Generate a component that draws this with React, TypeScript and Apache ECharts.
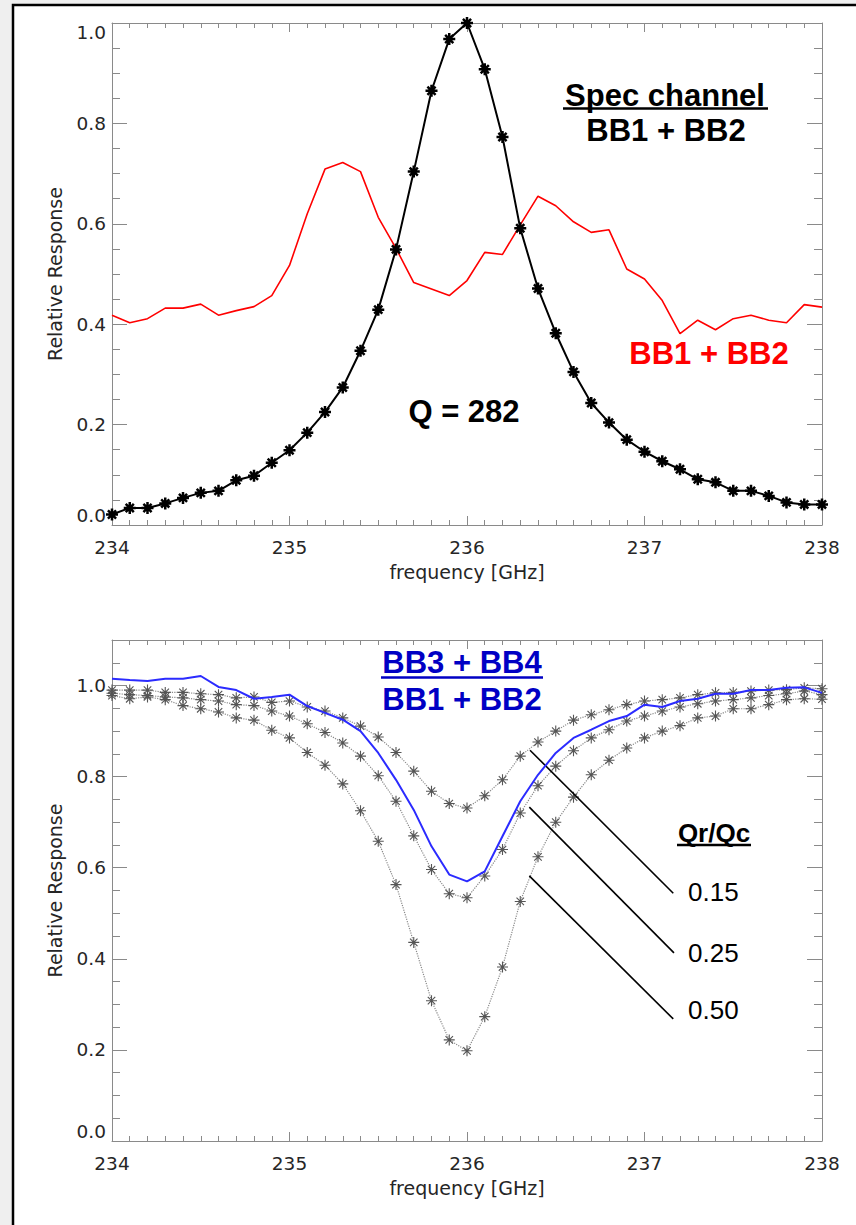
import React, { useEffect, useRef } from 'react';
import * as echarts from 'echarts';

// ---------- data ----------
const freq = [
  234.0, 234.1, 234.2, 234.3, 234.4, 234.5, 234.6, 234.7, 234.8, 234.9,
  235.0, 235.1, 235.2, 235.3, 235.4, 235.5, 235.6, 235.7, 235.8, 235.9,
  236.0, 236.1, 236.2, 236.3, 236.4, 236.5, 236.6, 236.7, 236.8, 236.9,
  237.0, 237.1, 237.2, 237.3, 237.4, 237.5, 237.6, 237.7, 237.8, 237.9,
  238.0,
];

// top panel: spectral channel response (Q = 282)
const specChannel = [
  0.021, 0.034, 0.034, 0.043, 0.054, 0.064, 0.068, 0.089, 0.098, 0.124,
  0.149, 0.184, 0.225, 0.274, 0.347, 0.429, 0.549, 0.704, 0.865, 0.968,
  1.0, 0.908, 0.773, 0.591, 0.471, 0.382, 0.305, 0.243, 0.204, 0.170,
  0.146, 0.127, 0.111, 0.091, 0.085, 0.068, 0.068, 0.058, 0.045, 0.041,
  0.041,
];

// top panel: broadband BB1 + BB2 (red)
const bb12 = [
  0.418, 0.403, 0.411, 0.432, 0.432, 0.440, 0.418, 0.427, 0.435, 0.457,
  0.517, 0.620, 0.709, 0.722, 0.704, 0.613, 0.551, 0.483, 0.470, 0.457,
  0.487, 0.543, 0.539, 0.598, 0.655, 0.636, 0.604, 0.583, 0.588, 0.510,
  0.490, 0.447, 0.381, 0.408, 0.389, 0.411, 0.418, 0.408, 0.403, 0.439,
  0.434,
];

// bottom panel: ratio (BB3 + BB4) / (BB1 + BB2) (blue)
const ratio = [
  1.015, 1.012, 1.010, 1.015, 1.015, 1.021, 0.997, 0.990, 0.971, 0.975,
  0.980, 0.955, 0.940, 0.925, 0.900, 0.852, 0.793, 0.727, 0.647, 0.585,
  0.570, 0.592, 0.669, 0.746, 0.804, 0.852, 0.885, 0.903, 0.922, 0.933,
  0.958, 0.953, 0.966, 0.971, 0.982, 0.982, 0.990, 0.990, 0.995, 0.996,
  0.984,
];

// bottom panel: model curves for Qr/Qc
const model015 = [
  0.990, 0.990, 0.990, 0.985, 0.985, 0.982, 0.980, 0.973, 0.975, 0.963,
  0.966, 0.953, 0.944, 0.929, 0.911, 0.887, 0.853, 0.812, 0.768, 0.741,
  0.731, 0.758, 0.793, 0.845, 0.876, 0.900, 0.924, 0.936, 0.947, 0.958,
  0.966, 0.969, 0.973, 0.980, 0.984, 0.985, 0.988, 0.990, 0.991, 0.995,
  0.993,
];
const model025 = [
  0.983, 0.980, 0.978, 0.975, 0.973, 0.969, 0.966, 0.958, 0.956, 0.944,
  0.933, 0.916, 0.897, 0.874, 0.845, 0.802, 0.746, 0.670, 0.596, 0.543,
  0.534, 0.582, 0.640, 0.720, 0.780, 0.823, 0.857, 0.885, 0.903, 0.922,
  0.933, 0.944, 0.953, 0.960, 0.966, 0.969, 0.973, 0.978, 0.982, 0.988,
  0.980,
];
const model050 = [
  0.978, 0.971, 0.975, 0.969, 0.956, 0.949, 0.942, 0.929, 0.924, 0.902,
  0.885, 0.853, 0.825, 0.784, 0.725, 0.658, 0.563, 0.436, 0.308, 0.222,
  0.198, 0.273, 0.382, 0.526, 0.624, 0.700, 0.755, 0.804, 0.836, 0.863,
  0.885, 0.900, 0.912, 0.929, 0.933, 0.949, 0.949, 0.958, 0.969, 0.971,
  0.970,
];

const qLabels = ['0.15', '0.25', '0.50'];
// leader lines (data coordinates of bottom panel): [start, end]
const leaders = [
  [[236.355, 0.858], [237.162, 0.544]],
  [[236.351, 0.733], [237.166, 0.413]],
  [[236.351, 0.582], [237.162, 0.268]],
];

// ---------- styles ----------
const GRAY = '#8a8a8a';
const TICK_FONT = 'DejaVu Sans';
const LABEL_COLOR = '#262626';
const ASTERISK = 'path://M5,0L5,10M0,5L10,5M1.6,1.6L8.4,8.4M8.4,1.6L1.6,8.4';

const pair = (ys: number[]) => freq.map((f, i) => [f, ys[i]]);
const isMajor = (v: number) => Math.abs(v * 5 - Math.round(v * 5)) < 1e-6;

function xAxes(gridIndex: number) {
  const common = {
    type: 'value',
    gridIndex,
    min: 234,
    max: 238,
    interval: 1,
    axisLine: { show: true, onZero: false, lineStyle: { color: GRAY, width: 1 } },
    axisTick: { show: true, inside: true, length: 9, lineStyle: { color: GRAY, width: 1 } },
    minorTick: { show: true, splitNumber: 10, length: 5, lineStyle: { color: GRAY, width: 1 } },
    splitLine: { show: false },
    minorSplitLine: { show: false },
  };
  return [
    {
      ...common,
      position: 'bottom',
      axisLabel: {
        show: true,
        margin: 13,
        fontFamily: TICK_FONT,
        fontSize: 18.5,
        color: LABEL_COLOR,
        formatter: (v: number) => String(Math.round(v)),
      },
      name: 'frequency [GHz]',
      nameLocation: 'middle',
      nameGap: 37,
      nameTextStyle: { fontFamily: TICK_FONT, fontSize: 19, color: LABEL_COLOR },
    },
    { ...common, position: 'top', axisLabel: { show: false } },
  ];
}

function yAxes(gridIndex: number, max: number, separateMinor: boolean) {
  const common = {
    type: 'value',
    gridIndex,
    min: 0,
    max,
    interval: 0.2,
    axisLine: { show: true, onZero: false, lineStyle: { color: GRAY, width: 1 } },
    axisTick: { show: true, inside: true, length: 15, lineStyle: { color: GRAY, width: 1 } },
    minorTick: { show: !separateMinor, splitNumber: 4, length: 8, lineStyle: { color: GRAY, width: 1 } },
    splitLine: { show: false },
    minorSplitLine: { show: false },
  };
  const axes: any[] = [
    {
      ...common,
      position: 'left',
      axisLabel: {
        show: true,
        margin: 6,
        fontFamily: TICK_FONT,
        fontSize: 18.5,
        color: LABEL_COLOR,
        verticalAlignMinLabel: 'bottom',
        verticalAlignMaxLabel: isMajor(max) ? 'top' : undefined,
        formatter: (v: number) => (isMajor(v) ? v.toFixed(1) : ''),
      },
      name: 'Relative Response',
      nameLocation: 'middle',
      nameGap: 48,
      nameRotate: 90,
      nameTextStyle: { fontFamily: TICK_FONT, fontSize: 19, color: LABEL_COLOR },
    },
    { ...common, position: 'right', axisLabel: { show: false } },
  ];
  if (separateMinor) {
    const minor = {
      type: 'value',
      gridIndex,
      min: 0,
      max,
      interval: 0.05,
      axisLine: { show: false, onZero: false },
      axisTick: { show: true, inside: true, length: 8, lineStyle: { color: GRAY, width: 1 } },
      axisLabel: { show: false },
      splitLine: { show: false },
    };
    axes.push({ ...minor, position: 'left' }, { ...minor, position: 'right' });
  }
  return axes;
}

const titleFont = 'bold 31px "Liberation Sans", Arial, sans-serif';
const qFont = 'bold 26px "Liberation Sans", Arial, sans-serif';
const numFont = '26px "Liberation Sans", Arial, sans-serif';

function txt(text: string, x: number, y: number, font: string, fill: string, align = 'center') {
  return {
    type: 'text',
    x,
    y,
    z: 50,
    silent: true,
    style: { text, font, fill, align, verticalAlign: 'middle' },
  };
}
function uline(x1: number, x2: number, y: number, stroke: string) {
  return {
    type: 'line',
    z: 50,
    silent: true,
    shape: { x1, y1: y, x2, y2: y },
    style: { stroke, lineWidth: 2.5 },
  };
}

export default function App() {
  const ref = useRef<HTMLDivElement>(null);

  useEffect(() => {
    document.body.style.margin = '0';
    const chart = echarts.init(ref.current!, null, { renderer: 'svg' });

    const x = [...xAxes(0), ...xAxes(1)];
    const yTop = yAxes(0, 1.0, false); // indices 0,1
    const yBot = yAxes(1, 1.1, true); // indices 2,3,4,5
    const y = [...yTop, ...yBot];

    const dottedModel = (data: number[]) => ({
      type: 'line',
      xAxisIndex: 2,
      yAxisIndex: 2,
      data: pair(data),
      symbol: ASTERISK,
      symbolSize: 11,
      lineStyle: { color: '#8a8a8a', width: 1.2, type: 'dotted' },
      itemStyle: { color: '#555555', borderColor: '#555555', borderWidth: 1.1 },
      z: 3,
      silent: true,
    });

    const option: any = {
      animation: false,
      backgroundColor: '#efefef',
      grid: [
        { left: 112, top: 23, width: 710, height: 502, containLabel: false },
        { left: 112, top: 640, width: 710, height: 501, containLabel: false },
      ],
      xAxis: x,
      yAxis: y,
      series: [
        {
          type: 'line',
          xAxisIndex: 0,
          yAxisIndex: 0,
          data: pair(bb12),
          symbol: 'none',
          lineStyle: { color: '#ff0000', width: 1.6 },
          z: 3,
          silent: true,
        },
        {
          type: 'line',
          xAxisIndex: 0,
          yAxisIndex: 0,
          data: pair(specChannel),
          symbol: ASTERISK,
          symbolSize: 12,
          lineStyle: { color: '#000000', width: 2 },
          itemStyle: { color: '#000000', borderColor: '#000000', borderWidth: 2.5 },
          z: 4,
          silent: true,
          clip: false,
        },
        dottedModel(model015),
        dottedModel(model025),
        dottedModel(model050),
        {
          type: 'line',
          xAxisIndex: 2,
          yAxisIndex: 2,
          data: pair(ratio),
          symbol: 'none',
          lineStyle: { color: '#2b2bff', width: 2 },
          z: 5,
          silent: true,
          markLine: {
            silent: true,
            symbol: 'none',
            label: { show: false },
            lineStyle: { color: '#000000', width: 1.6, type: 'solid' },
            data: leaders.map(([a, b]) => [{ coord: a }, { coord: b }]),
          },
        },
      ],
      graphic: [
        {
          type: 'rect',
          z: -100,
          silent: true,
          shape: { x: 13, y: 5, width: 900, height: 1260 },
          style: { fill: '#ffffff', stroke: '#000000', lineWidth: 2.5 },
        },
        txt('Spec channel', 665, 95, titleFont, '#000000'),
        uline(563, 768, 108.5, '#000000'),
        txt('BB1 + BB2', 666, 130, titleFont, '#000000'),
        txt('Q = 282', 464, 411, titleFont, '#000000'),
        txt('BB1 + BB2', 709, 353, titleFont, '#ff0000'),
        txt('BB3 + BB4', 462, 662, titleFont, '#0000c4'),
        uline(381, 543, 677.5, '#0000c4'),
        txt('BB1 + BB2', 462, 699, titleFont, '#0000c4'),
        txt('Qr/Qc', 714, 833, qFont, '#000000'),
        uline(677, 751, 845, '#000000'),
        txt(qLabels[0], 688, 892, numFont, '#000000', 'left'),
        txt(qLabels[1], 688, 953, numFont, '#000000', 'left'),
        txt(qLabels[2], 688, 1010, numFont, '#000000', 'left'),
      ],
    };

    chart.setOption(option);
    return () => chart.dispose();
  }, []);

  return <div ref={ref} style={{ width: 856, height: 1225, background: '#efefef' }} />;
}
